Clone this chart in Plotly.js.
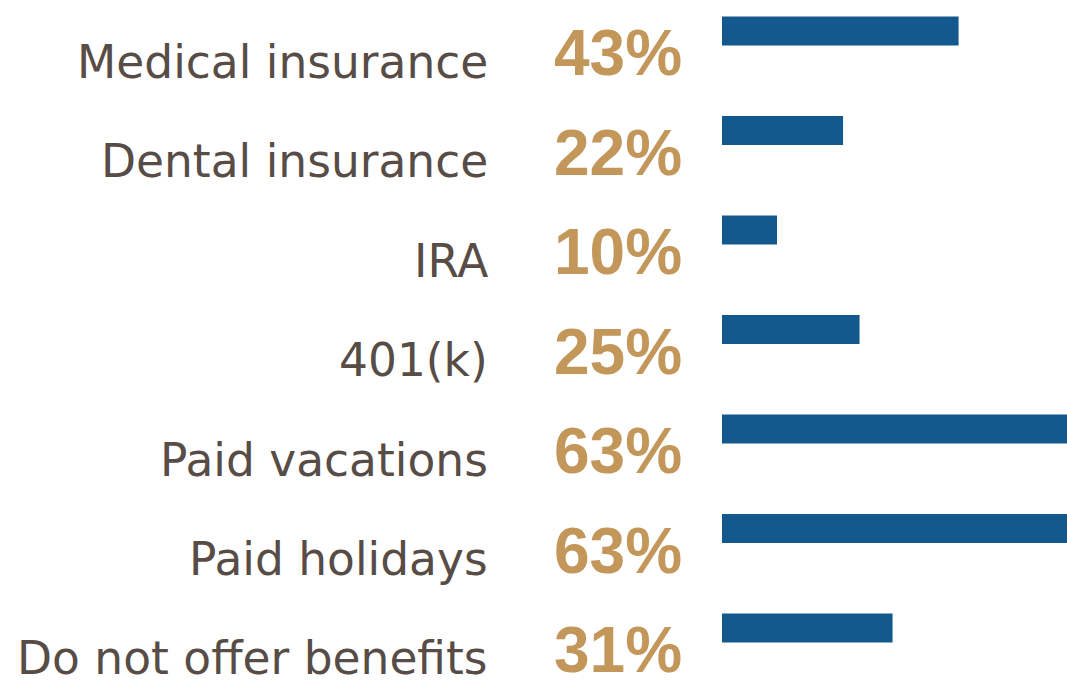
<!DOCTYPE html>
<html>
<head>
<meta charset="utf-8">
<script src="https://cdn.plot.ly/plotly-3.0.1.min.js"></script>
<style>html,body{margin:0;padding:0;background:#fff;}#chart{width:1067px;height:685px;}</style>
</head>
<body>
<div id="chart"></div>
<script>
const categories = ["Medical insurance", "Dental insurance", "IRA", "401(k)", "Paid vacations", "Paid holidays", "Do not offer benefits"];
const values = [43, 22, 10, 25, 63, 63, 31];
const valueLabels = ["43%", "22%", "10%", "25%", "63%", "63%", "31%"];

const barColor = "#14598e";
const goldColor = "#c3965a";
const textColor = "#574c46";

const trace = {
  type: "bar",
  orientation: "h",
  x: values,
  y: categories,
  width: 0.29,
  marker: {color: barColor},
  hoverinfo: "skip"
};

const annotations = [];
categories.forEach((c, i) => {
  annotations.push({
    x: 0, y: c, xref: "x", yref: "y",
    text: c, showarrow: false,
    xanchor: "right", yanchor: "middle",
    xshift: -232, yshift: -31,
    font: {family: "DejaVu Sans, sans-serif", size: 45.5, color: textColor}
  });
  annotations.push({
    x: 0, y: c, xref: "x", yref: "y",
    text: valueLabels[i], showarrow: false,
    xanchor: "left", yanchor: "middle",
    xshift: -170, yshift: -22,
    font: {family: "Liberation Sans, Arial, sans-serif", size: 64, color: goldColor, weight: 700}
  });
});

const layout = {
  width: 1067, height: 685,
  margin: {l: 722, r: 0, t: 0, b: 0, pad: 0},
  paper_bgcolor: "#ffffff",
  plot_bgcolor: "#ffffff",
  showlegend: false,
  xaxis: {range: [0, 62.7], visible: false, fixedrange: true},
  yaxis: {type: "category", range: [6.573, -0.312], visible: false, fixedrange: true},
  annotations: annotations
};

Plotly.newPlot("chart", [trace], layout, {displayModeBar: false, staticPlot: true});
</script>
</body>
</html>
